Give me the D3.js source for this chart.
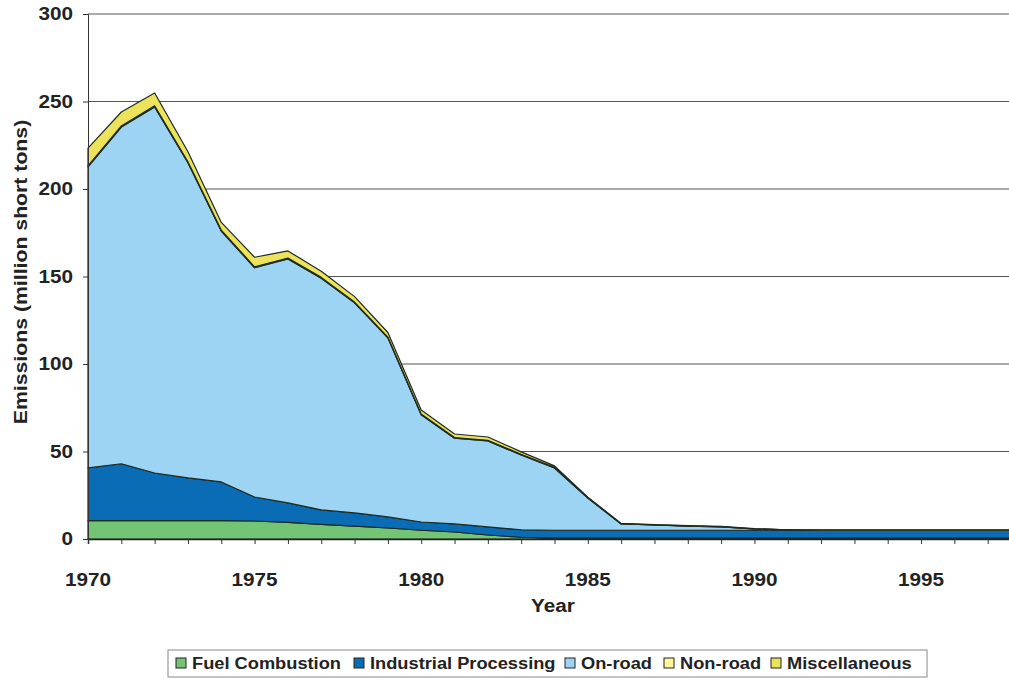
<!DOCTYPE html>
<html>
<head>
<meta charset="utf-8">
<script src="https://cdn.jsdelivr.net/npm/d3@7"></script>
<style>
  body { margin: 0; background: #fff; }
  text { font-family: "Liberation Sans", Arial, sans-serif; font-weight: bold; fill: #222; }
</style>
</head>
<body>
<script>
var years = d3.range(1970, 1999);
var fuelCombustion = [10.5, 10.5, 10.5, 10.5, 10.5, 10.3, 9.5, 8.4, 7.4, 6.3, 5, 4, 2.3, 1, 0.5, 0.5, 0.5, 0.5, 0.5, 0.5, 0.5, 0.5, 0.5, 0.5, 0.5, 0.5, 0.5, 0.5, 0.5];
var industrial = [30.1, 32.5, 27.2, 24.4, 22.1, 13.7, 11.1, 8.2, 7.5, 6.3, 4.7, 4.6, 4.6, 4.3, 4.5, 4.5, 4.5, 4.5, 4.5, 4.5, 4.5, 4.5, 4.5, 4.5, 4.5, 4.5, 4.5, 4.5, 4.5];
var onRoad = [172, 192.4, 209.2, 180.1, 143.4, 131, 139.4, 132.4, 120.1, 102.4, 61.3, 49, 49.1, 42.7, 35.6, 18.4, 3.6, 3, 2.4, 1.9, 0.7, 0.2, 0, 0, 0, 0, 0, 0, 0];
var nonRoad = [0.6, 0.6, 0.6, 0.5, 0.5, 0.5, 0.5, 0.5, 0.4, 0.4, 0.4, 0.4, 0.4, 0.4, 0.3, 0.2, 0.1, 0.1, 0.1, 0.1, 0.1, 0.05, 0.05, 0.05, 0.05, 0.05, 0.05, 0.05, 0.05];
var misc = [10.2, 8, 7.4, 5.8, 4.4, 5.5, 4.1, 3.5, 3.1, 2.6, 2.3, 2, 1.9, 1.4, 0.9, 0.3, 0.2, 0.2, 0.2, 0.2, 0.1, 0.05, 0.05, 0.05, 0.05, 0.05, 0.05, 0.05, 0.05];
var seriesNames = ["Fuel Combustion", "Industrial Processing", "On-road", "Non-road", "Miscellaneous"];
var seriesColors = ["#74c476", "#0b6cb6", "#9dd4f3", "#fff69a", "#ece35a"];
var yTicks = [0, 50, 100, 150, 200, 250, 300];
var xLabels = [1970, 1975, 1980, 1985, 1990, 1995];

var width = 1009, height = 680;
var svg = d3.select("body").append("svg")
  .attr("width", width)
  .attr("height", height);

var x = d3.scaleLinear().domain([1970, 1998]).range([88, 1021]);
var y = d3.scaleLinear().domain([0, 300]).range([539, 14]);

// the original's lettering is a little wider than Arial
function stretch(sel, f) {
  sel.each(function() {
    var w = this.getComputedTextLength();
    d3.select(this).attr("textLength", w * f).attr("lengthAdjust", "spacingAndGlyphs");
  });
}

var table = years.map(function(yr, i) {
  return {year: yr, s0: fuelCombustion[i], s1: industrial[i], s2: onRoad[i], s3: nonRoad[i], s4: misc[i]};
});
var stack = d3.stack().keys(["s0", "s1", "s2", "s3", "s4"]);
var layers = stack(table);

// gridlines
svg.append("g").selectAll("line")
  .data(yTicks.slice(1))
  .enter().append("line")
  .attr("x1", 88).attr("x2", width)
  .attr("y1", function(d) { return y(d); })
  .attr("y2", function(d) { return y(d); })
  .attr("stroke", "#555")
  .attr("stroke-width", 1);

// areas
var area = d3.area()
  .x(function(d) { return x(d.data.year); })
  .y0(function(d) { return y(d[0]); })
  .y1(function(d) { return y(d[1]); });

svg.append("g").selectAll("path")
  .data(layers)
  .enter().append("path")
  .attr("d", area)
  .attr("fill", function(d, i) { return seriesColors[i]; })
  .attr("stroke", "#1c2a22")
  .attr("stroke-width", 1.2)
  .attr("stroke-linejoin", "round");

// y axis
var yAxis = svg.append("g")
  .attr("transform", "translate(88,0)")
  .call(d3.axisLeft(y).tickValues(yTicks).tickSize(5).tickPadding(10));
yAxis.select(".domain").attr("stroke", "#333");
yAxis.selectAll(".tick line").attr("stroke", "#333");
yAxis.selectAll("text").style("font-size", "18px").attr("fill", "#222");
stretch(yAxis.selectAll("text"), 1.15);

// x axis
var xAxis = svg.append("g")
  .attr("transform", "translate(0,539)")
  .call(d3.axisBottom(x).tickValues(years).tickSize(5).tickFormat(""));
xAxis.select(".domain").attr("stroke", "#222").attr("stroke-width", 1.5);
xAxis.selectAll(".tick line").attr("stroke", "#333");

var xText = svg.append("g").selectAll("text")
  .data(xLabels)
  .enter().append("text")
  .attr("x", function(d) { return x(d); })
  .attr("y", 586)
  .attr("text-anchor", "middle")
  .style("font-size", "18px")
  .text(function(d) { return d; });
stretch(xText, 1.15);

var xTitle = svg.append("text")
  .attr("x", 553).attr("y", 612)
  .attr("text-anchor", "middle")
  .style("font-size", "18px")
  .text("Year");
stretch(xTitle, 1.15);

var yTitle = svg.append("text")
  .attr("transform", "translate(27,272) rotate(-90)")
  .attr("text-anchor", "middle")
  .style("font-size", "18px")
  .text("Emissions (million short tons)");
stretch(yTitle, 1.18);

// legend
var legend = svg.append("g");
legend.append("rect")
  .attr("x", 168).attr("y", 650)
  .attr("width", 759).attr("height", 27)
  .attr("fill", "#fff")
  .attr("stroke", "#888");
var legendX = [176, 354, 565, 664, 771];
seriesNames.forEach(function(name, i) {
  legend.append("rect")
    .attr("x", legendX[i]).attr("y", 658)
    .attr("width", 10).attr("height", 10)
    .attr("fill", seriesColors[i])
    .attr("stroke", "#222");
  var t = legend.append("text")
    .attr("x", legendX[i] + 16).attr("y", 669)
    .style("font-size", "16px")
    .text(name);
  stretch(t, 1.14);
});
</script>
</body>
</html>
